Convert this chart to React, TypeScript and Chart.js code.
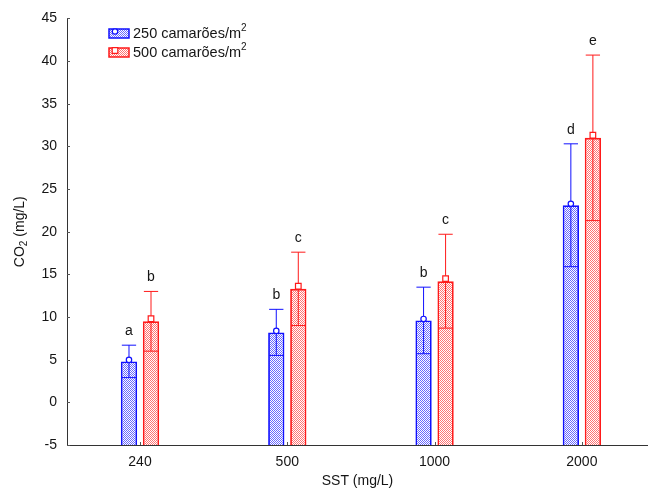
import React, { useEffect, useRef } from 'react';
import { Chart, registerables } from 'chart.js';

Chart.register(...registerables);

// ---- data ----
const categories = ['240', '500', '1000', '2000'];
const mean250 = [4.8, 8.2, 9.6, 23.1];
const sd250 = [1.9, 2.7, 3.9, 7.2];
const mean500 = [9.5, 13.3, 14.2, 31.0];
const sd500 = [3.5, 4.3, 5.5, 9.7];
const letters250 = ['a', 'b', 'b', 'd'];
const letters500 = ['b', 'c', 'c', 'e'];
const seriesNames = ['250 camarões/m²', '500 camarões/m²'];
const xTitle = 'SST (mg/L)';
const yTitle = 'CO₂ (mg/L)';
const Y_MIN = -5;
const Y_MAX = 45;
const Y_STEP = 5;

// ---- styles ----
const FONT = "'Liberation Sans', Arial, Helvetica, sans-serif";
const BLUE = '#1010ff';
const RED = '#ff1a1a';
const BLUE_CHECK = '#6a6aff';
const RED_CHECK = '#ff7474';
const TEXT = '#151515';
const AXIS = '#333333';

function makePattern(ctx: CanvasRenderingContext2D, color: string) {
  const c = document.createElement('canvas');
  c.width = 2;
  c.height = 2;
  const g = c.getContext('2d')!;
  g.fillStyle = '#ffffff';
  g.fillRect(0, 0, 2, 2);
  g.fillStyle = color;
  g.fillRect(0, 0, 1, 1);
  g.fillRect(1, 1, 1, 1);
  return ctx.createPattern(c, 'repeat')!;
}

function drawSupSub(
  ctx: CanvasRenderingContext2D,
  text: string,
  x: number,
  y: number,
  size: number,
  align: 'left' | 'center'
) {
  // handles "²" (superscript) and "₂" (subscript)
  const parts: { t: string; kind: 'n' | 'sup' | 'sub' }[] = [];
  let buf = '';
  for (const ch of text) {
    if (ch === '²' || ch === '₂') {
      if (buf) parts.push({ t: buf, kind: 'n' });
      buf = '';
      parts.push({ t: '2', kind: ch === '²' ? 'sup' : 'sub' });
    } else buf += ch;
  }
  if (buf) parts.push({ t: buf, kind: 'n' });
  const small = Math.round(size * 0.68);
  const widths = parts.map((p) => {
    ctx.font = `${p.kind === 'n' ? size : small}px ${FONT}`;
    return ctx.measureText(p.t).width;
  });
  const total = widths.reduce((a, b) => a + b, 0);
  let cx = align === 'center' ? x - total / 2 : x;
  ctx.textAlign = 'left';
  ctx.textBaseline = 'middle';
  parts.forEach((p, i) => {
    ctx.font = `${p.kind === 'n' ? size : small}px ${FONT}`;
    const dy = p.kind === 'sup' ? -size * 0.38 : p.kind === 'sub' ? size * 0.3 : 0;
    ctx.fillText(p.t, cx, y + dy);
    cx += widths[i];
  });
}

export default function App() {
  const canvasRef = useRef<HTMLCanvasElement | null>(null);

  useEffect(() => {
    const canvas = canvasRef.current!;
    const ctx0 = canvas.getContext('2d')!;
    const bluePattern = makePattern(ctx0, BLUE_CHECK);
    const redPattern = makePattern(ctx0, RED_CHECK);

    const groups = [
      { means: mean250, sds: sd250, letters: letters250, color: BLUE, pattern: bluePattern, marker: 'circle' },
      { means: mean500, sds: sd500, letters: letters500, color: RED, pattern: redPattern, marker: 'square' },
    ];

    const drawMarker = (ctx: CanvasRenderingContext2D, kind: string, x: number, y: number, color: string) => {
      ctx.save();
      ctx.fillStyle = '#ffffff';
      ctx.strokeStyle = color;
      ctx.lineWidth = 1.2;
      ctx.beginPath();
      if (kind === 'circle') {
        ctx.arc(x, y, 2.7, 0, Math.PI * 2);
      } else {
        ctx.rect(x - 2.8, y - 2.8, 5.6, 5.6);
      }
      ctx.fill();
      ctx.stroke();
      ctx.restore();
    };

    const overlay = {
      id: 'overlay',
      afterDatasetsDraw(chart: any) {
        const ctx: CanvasRenderingContext2D = chart.ctx;
        const ys = chart.scales.y;
        groups.forEach((g, d) => {
          const meta = chart.getDatasetMeta(d);
          meta.data.forEach((bar: any, i: number) => {
            const { x, y, width } = bar.getProps(['x', 'y', 'width'], true);
            const lo = ys.getPixelForValue(g.means[i] - g.sds[i]);
            const hi = ys.getPixelForValue(g.means[i] + g.sds[i]);
            const half = width / 2 - 1;
            ctx.save();
            ctx.strokeStyle = g.color;
            ctx.lineWidth = 1;
            ctx.beginPath();
            ctx.moveTo(x, lo);
            ctx.lineTo(x, hi);
            ctx.moveTo(x - half, lo);
            ctx.lineTo(x + half, lo);
            ctx.moveTo(x - half, hi);
            ctx.lineTo(x + half, hi);
            ctx.stroke();
            ctx.restore();
            drawMarker(ctx, g.marker, x, g.marker === 'circle' ? y - 1.5 : y - 2.6, g.color);
            ctx.save();
            ctx.fillStyle = TEXT;
            ctx.font = `14px ${FONT}`;
            ctx.textAlign = 'center';
            ctx.textBaseline = 'middle';
            ctx.fillText(g.letters[i], x, hi - 14);
            ctx.restore();
          });
        });
      },
      afterDraw(chart: any) {
        const ctx: CanvasRenderingContext2D = chart.ctx;
        const area = chart.chartArea;
        const xs = chart.scales.x;
        const ys = chart.scales.y;
        ctx.save();
        // inner tick marks
        ctx.strokeStyle = '#555';
        ctx.lineWidth = 1;
        ctx.beginPath();
        categories.forEach((_, i) => {
          const px = Math.round(xs.getPixelForValue(i)) + 0.5;
          ctx.moveTo(px, area.bottom);
          ctx.lineTo(px, area.bottom - 3);
        });
        for (let v = Y_MIN; v <= Y_MAX; v += Y_STEP) {
          const py = Math.round(ys.getPixelForValue(v)) + 0.5;
          ctx.moveTo(area.left, py);
          ctx.lineTo(area.left + 3, py);
        }
        ctx.stroke();

        // y title
        ctx.save();
        ctx.translate(20, (area.top + area.bottom) / 2);
        ctx.rotate(-Math.PI / 2);
        ctx.fillStyle = TEXT;
        drawSupSub(ctx, yTitle, 0, 0, 14, 'center');
        ctx.restore();

        // legend
        const rows = [33.5, 52.5];
        groups.forEach((g, k) => {
          const yc = rows[k];
          ctx.fillStyle = g.pattern;
          ctx.fillRect(109, yc - 4.5, 20, 9);
          ctx.strokeStyle = g.color;
          ctx.lineWidth = 1.5;
          ctx.strokeRect(109, yc - 4.5, 20, 9);
          drawMarker(ctx, g.marker, 115, yc - 2, g.color);
          ctx.fillStyle = TEXT;
          drawSupSub(ctx, seriesNames[k], 133, yc + 0.5, 14.5, 'left');
        });
        ctx.restore();
      },
    };

    const chart = new Chart(canvas, {
      type: 'bar',
      data: {
        datasets: groups.map((g, d) => ({
          label: seriesNames[d],
          data: g.means.map((m, i) => ({ x: i, y: m })),
          backgroundColor: g.pattern,
          borderColor: g.color,
          borderWidth: 1.8,
          borderSkipped: 'start',
          base: Y_MIN,
          barPercentage: 0.74,
          categoryPercentage: 0.299,
        })),
      },
      options: {
        responsive: false,
        animation: false,
        devicePixelRatio: 1,
        layout: { padding: { top: 17, right: 0, left: 0, bottom: 0 } },
        plugins: {
          legend: { display: false },
          tooltip: { enabled: false },
        },
        scales: {
          x: {
            type: 'linear',
            min: -0.4956,
            max: 3.449,
            offset: false,
            grid: { display: false, drawTicks: false },
            border: { display: true, color: AXIS, width: 1 },
            afterBuildTicks: (scale: any) => {
              scale.ticks = categories.map((_, i) => ({ value: i }));
            },
            afterFit: (scale: any) => {
              scale.height = 47;
            },
            ticks: {
              padding: 9,
              color: TEXT,
              font: { family: FONT, size: 14 },
              callback: (v: any) => categories[Math.round(Number(v))] ?? '',
              maxRotation: 0,
              autoSkip: false,
            },
            title: {
              display: true,
              text: xTitle,
              color: TEXT,
              font: { family: FONT, size: 14 },
              padding: { top: 0, bottom: 2 },
            },
          },
          y: {
            type: 'linear',
            min: Y_MIN,
            max: Y_MAX,
            grid: { display: false, drawTicks: false },
            border: { display: true, color: AXIS, width: 1 },
            afterFit: (scale: any) => {
              scale.width = 67;
            },
            ticks: {
              stepSize: Y_STEP,
              padding: 10,
              color: TEXT,
              font: { family: FONT, size: 14 },
            },
          },
        },
      },
      plugins: [overlay],
    } as any);

    return () => chart.destroy();
  }, []);

  return (
    <div style={{ position: 'absolute', left: 0, top: 0, width: 648, height: 492, background: '#fff' }}>
      <canvas ref={canvasRef} width={648} height={492} style={{ width: 648, height: 492, display: 'block' }} />
    </div>
  );
}
